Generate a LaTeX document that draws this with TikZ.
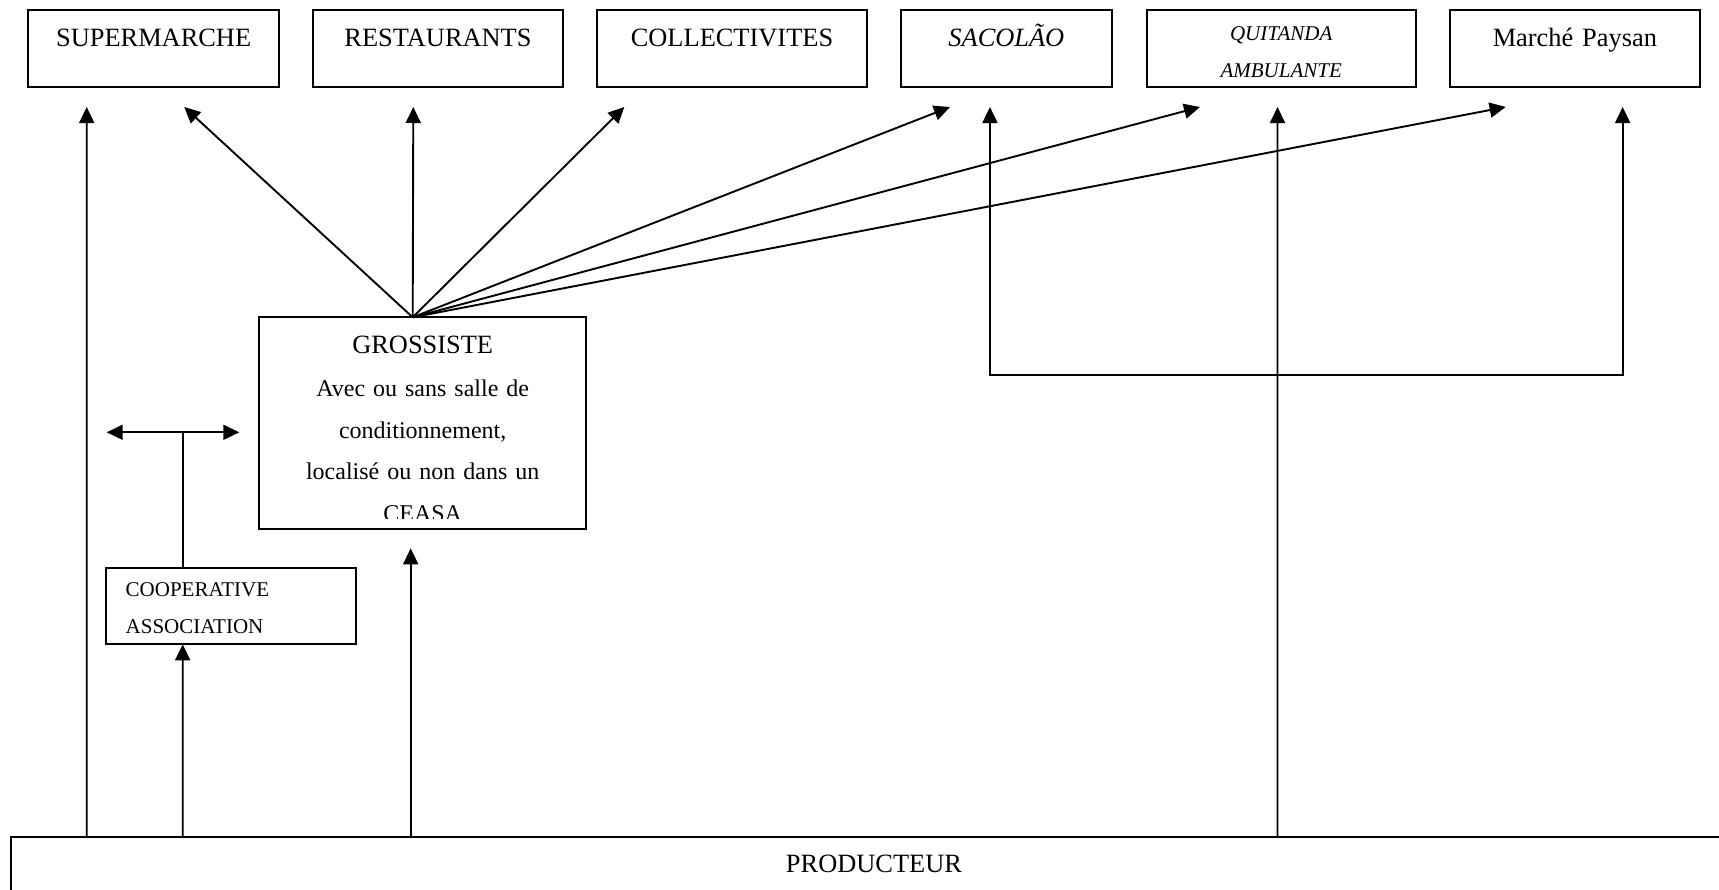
\documentclass[tikz,border=0pt]{standalone}
\usepackage{fontspec}
\setmainfont{Liberation Serif}
\usepackage{tikz}
\usetikzlibrary{arrows.meta}
\tikzset{
  chainbox/.style={draw,line width=1pt,inner sep=0pt,outer sep=0pt,anchor=north west},
  outlet/.style={chainbox,align=center,text width=#1,text height=18pt,text depth=20.65pt,
    font=\fontsize{13.2}{16}\selectfont},
  flow/.style={-{Triangle[length=8pt,width=7.5pt]},line width=0.95pt},
  twoway/.style={{Triangle[length=8pt,width=7.5pt]}-{Triangle[length=8pt,width=7.5pt]},line width=0.95pt},
  link/.style={line width=0.95pt}
}

\begin{document}
\begin{tikzpicture}[x=0.5pt,y=-0.5pt]
    \path[use as bounding box,clip] (0,0) rectangle (1719,889);
    \node[outlet=125.35pt] (super) at (28.3,10) {SUPERMARCHE};
    \node[outlet=125.3pt] (resto) at (312.7,10) {RESTAURANTS};
    \node[outlet=134.7pt] (collect) at (597.3,10) {COLLECTIVITES};
    \node[outlet=105.65pt,font=\fontsize{13.2}{16}\selectfont\itshape] (sacolao) at (900.7,10) {SACOLÃO};
    \node[outlet=134.5pt,text height=15pt,text depth=23.65pt,font=\fontsize{10.5}{18.65}\selectfont\itshape]
      (quitanda) at (1146.7,10) {QUITANDA\\AMBULANTE};
    \node[outlet=125.15pt] (marche) at (1449.7,10) {Marché Paysan};
    \node[chainbox,minimum width=163.5pt,minimum height=105.85pt] (grossiste) at (259,317.3) {};
    \begin{scope}
      \clip (259,317.3) rectangle (586,518.3);
      \node[anchor=base,align=center,text width=160pt,font=\fontsize{12}{20.75}\selectfont]
        (grossistetext) at (422.7,353.3) {{\fontsize{13.2}{16}\selectfont GROSSISTE}\\[1pt]
        Avec ou sans salle de\\ conditionnement,\\ localisé ou non dans un\\ CEASA};
    \end{scope}
    \node[chainbox,align=left,inner xsep=10pt,text width=105pt,text height=14.5pt,text depth=23.8pt,
      font=\fontsize{10.5}{18.3}\selectfont] (coop) at (105.7,567.7) {COOPERATIVE\\ASSOCIATION};
    \node[chainbox,align=center,text width=863pt,text height=17.75pt,text depth=40pt,
      font=\fontsize{13.2}{16}\selectfont] (producteur) at (11,836.5) {PRODUCTEUR};

    \draw[flow] ([xshift=-4.9pt]grossiste.north) -- ([xshift=15.3pt,yshift=-9.85pt]super.south);
    \draw[flow] ([xshift=-4.9pt]grossiste.north) -- ([xshift=-12.35pt,yshift=-9.85pt]resto.south);
    \draw[flow] ([xshift=-4.9pt]grossiste.north) -- ([xshift=-53.85pt,yshift=-9.85pt]collect.south);
    \draw[flow] ([xshift=-4.9pt]grossiste.north) -- ([xshift=-28.2pt,yshift=-9.85pt]sacolao.south);
    \draw[flow] ([xshift=-4.9pt]grossiste.north) -- ([xshift=-40.6pt,yshift=-9.85pt]quitanda.south);
    \draw[flow] ([xshift=-4.9pt]grossiste.north) -- ([xshift=-34.6pt,yshift=-9.85pt]marche.south);

    \draw[flow] ([xshift=37.85pt]producteur.north west) -- ([xshift=29.2pt,yshift=-9.85pt]super.south west);
    \draw[flow] ([xshift=85.85pt]producteur.north west) -- ([xshift=-24pt]coop.south);
    \draw[flow] ([xshift=199.85pt]producteur.north west) -- ([xshift=-5.9pt,yshift=-9.65pt]grossiste.south);
    \draw[flow] ([xshift=633.25pt]producteur.north west) -- ([xshift=-1.85pt,yshift=-9.85pt]quitanda.south);

    \draw[link] ([xshift=-24pt]coop.north) -- ++(0,-135.4) coordinate (split);
    \draw[twoway] ([xshift=-38pt]split) -- ([xshift=28.3pt]split);
    \draw[twoway] ([xshift=-8.2pt,yshift=-9.85pt]sacolao.south) -- ++(0,268)
      -| ([xshift=23.9pt,yshift=-9.85pt]marche.south);
\end{tikzpicture}
\end{document}
